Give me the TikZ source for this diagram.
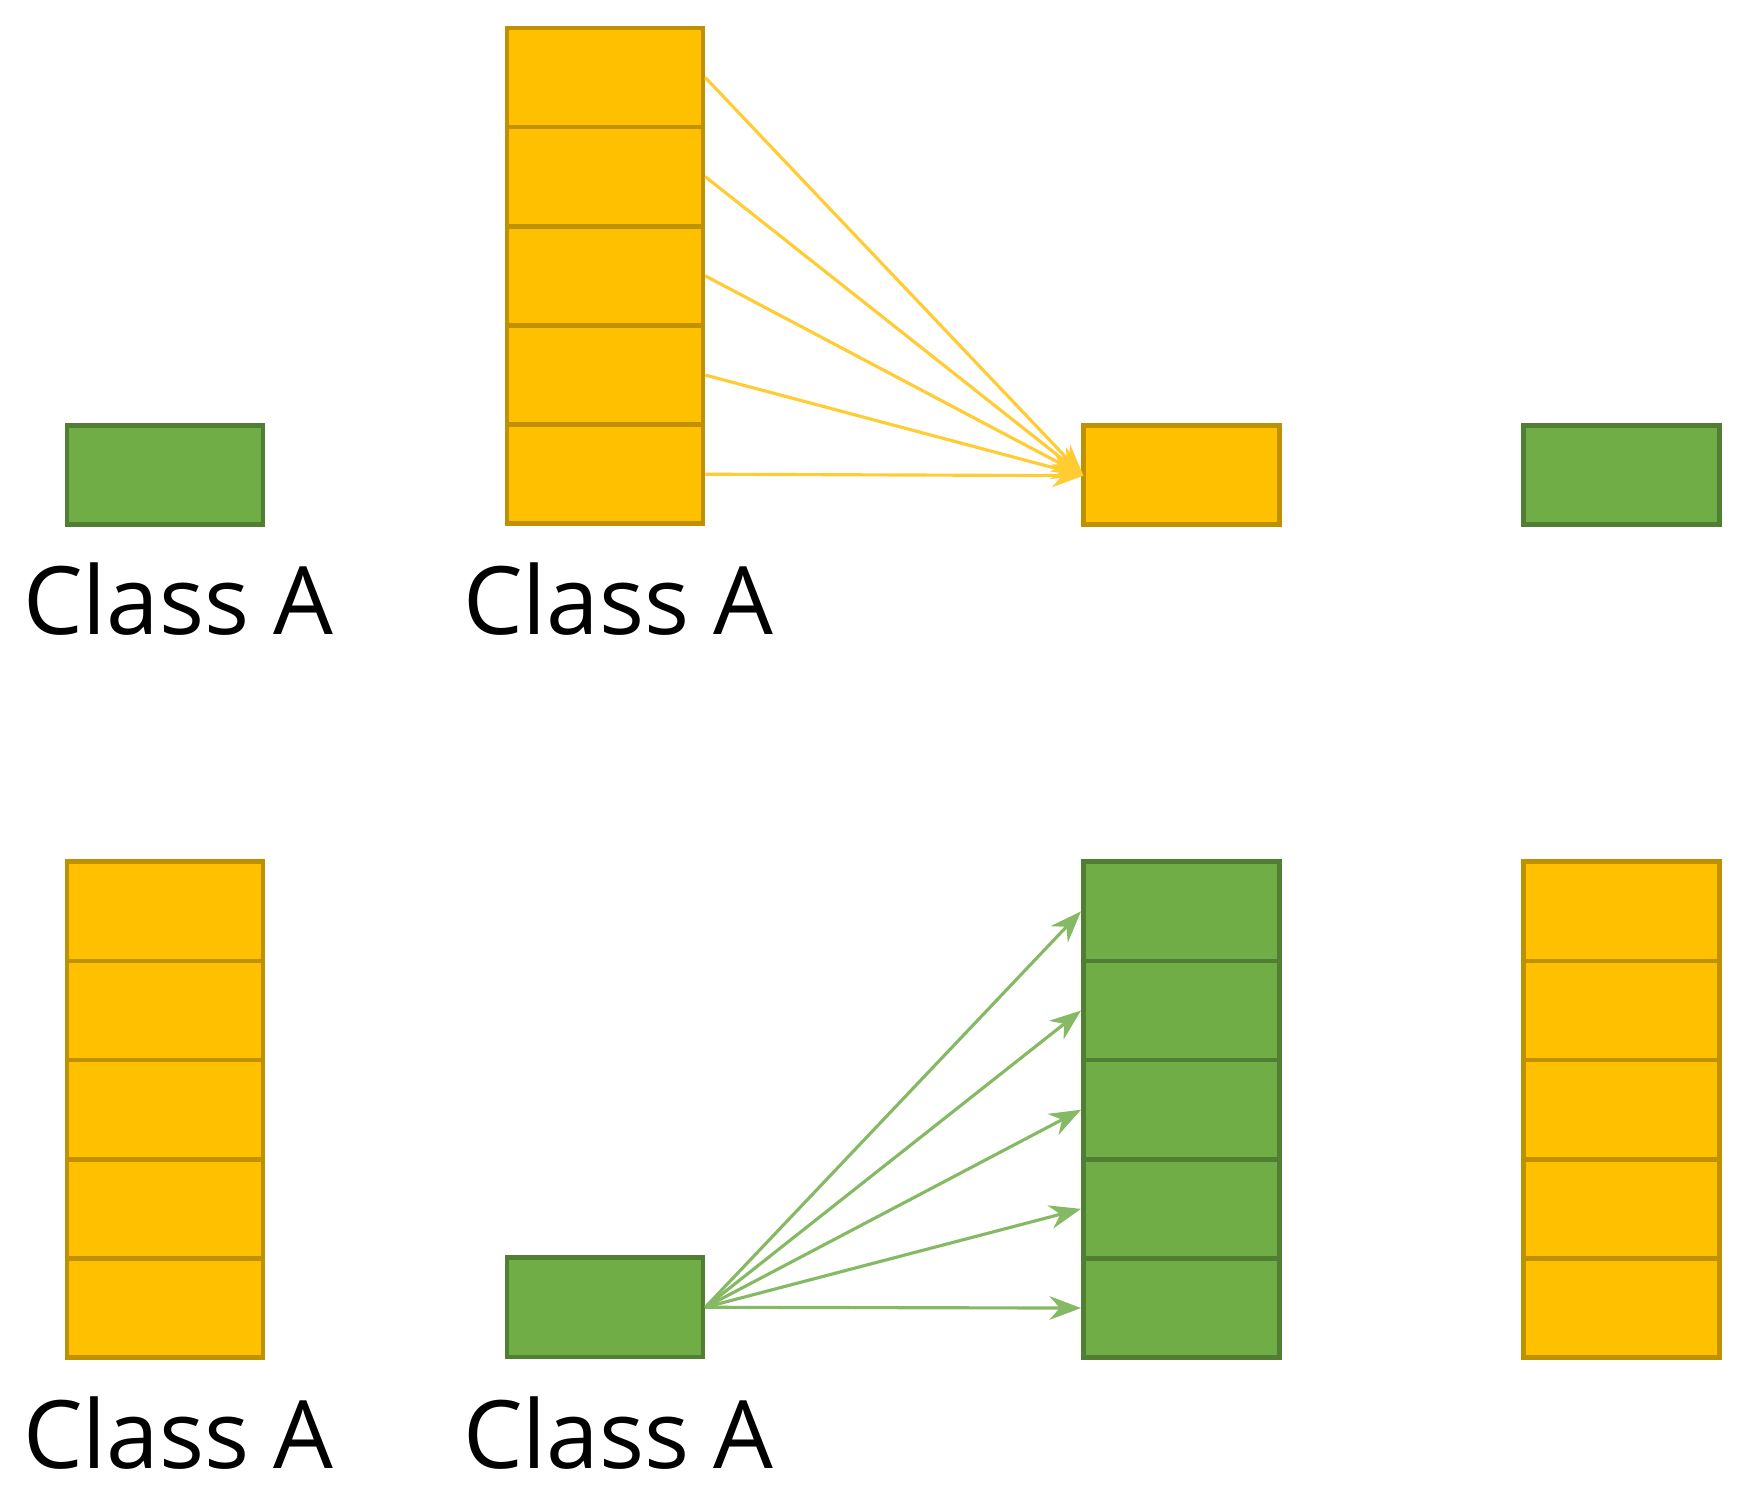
\documentclass[tikz,border=0pt]{standalone}
\usepackage{fontspec}
\setmainfont{Open Sans}
\usetikzlibrary{arrows.meta}
\definecolor{amber}{HTML}{FFC000}
\definecolor{amberline}{HTML}{BF9000}
\definecolor{leaf}{HTML}{70AD47}
\definecolor{leafline}{HTML}{507E32}
\begin{document}
\begin{tikzpicture}[x=0.01cm, y=-0.01cm,
    cellY/.style={draw=amberline, fill=amber, line width=1.2pt, minimum width=1.75cm, minimum height=0.886cm, inner sep=0pt},
    cellG/.style={draw=leafline, fill=leaf, line width=1.2pt, minimum width=1.75cm, minimum height=0.886cm, inner sep=0pt},
    lbl/.style={anchor=west, inner sep=0pt, font=\fontsize{24}{28}\selectfont},
    arrY/.style={draw=amber!80, line width=0.8pt, -{Stealth[length=8pt,width=6pt]}},
    arrG/.style={draw=leaf!85, line width=0.8pt, -{Stealth[length=8pt,width=6pt]}}]
    \useasboundingbox (0,0) rectangle (1560,1330);

    % top row
    \node[cellG] (ga) at (147.5, 424.5) {};
    \node[lbl] (la) at (20, 535) {Class A};
    \foreach \i in {1,...,5}
        \node[cellY] (s\i) at (540.5, {25+88.6*(\i-0.5)}) {};
    \node[lbl] (lb) at (413, 535) {Class A};
    \node[cellY] (t) at (1055.5, 424.5) {};
    \node[cellG] (gb) at (1449, 424.5) {};
    \coordinate (tin) at (968, 425);
    \foreach \i in {1,...,5}
        \draw[arrY] (s\i.east) -- (tin);

    % bottom row
    \foreach \i in {1,...,5}
        \node[cellY] (p\i) at (147.5, {770+88.6*(\i-0.5)}) {};
    \node[lbl] (lc) at (20, 1280) {Class A};
    \node[cellG] (g) at (540.5, 1168) {};
    \node[lbl] (ld) at (413, 1280) {Class A};
    \foreach \i in {1,...,5}
        \node[cellG] (q\i) at (1055.5, {770+88.6*(\i-0.5)}) {};
    \foreach \i in {1,...,5}
        \node[cellY] (r\i) at (1449, {770+88.6*(\i-0.5)}) {};
    \foreach \i in {1,...,5}
        \draw[arrG] (g.east) -- (q\i.west);
\end{tikzpicture}
\end{document}
